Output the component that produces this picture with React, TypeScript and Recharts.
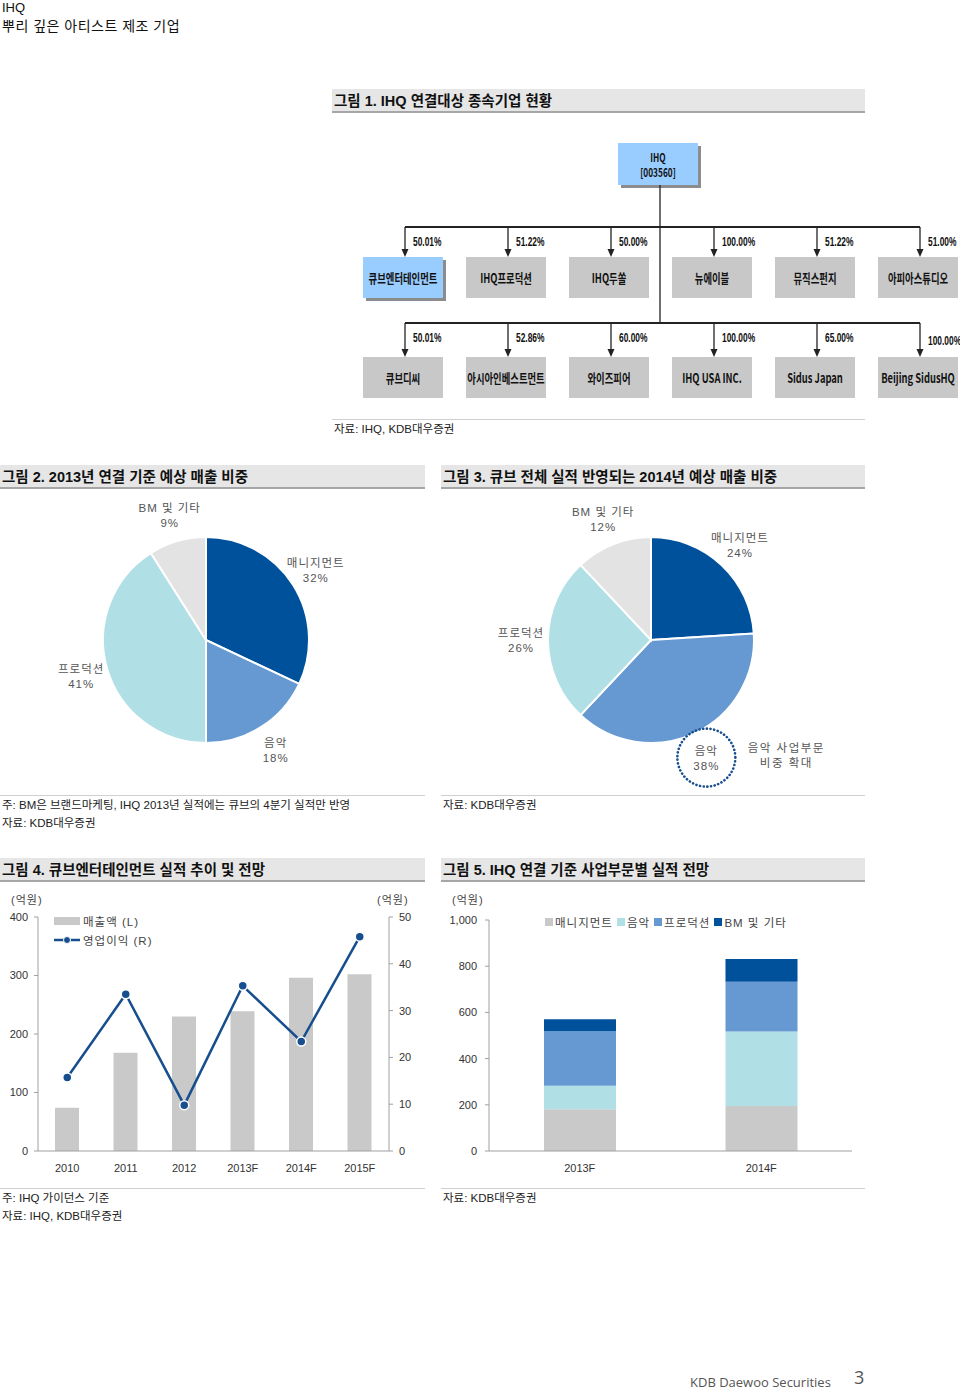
import React from "react";
import {
  Bar,
  BarChart,
  Cell,
  ComposedChart,
  Line,
  Pie,
  PieChart,
  XAxis,
  YAxis,
} from "recharts";

// 그림 1 – 종속기업
const SUBS_1 = ["큐브엔터테인먼트", "IHQ프로덕션", "IHQ두쏠", "뉴에이블", "뮤직스펀지", "아피아스튜디오"];
const STAKES_1 = ["50.01%", "51.22%", "50.00%", "100.00%", "51.22%", "51.00%"];
const SUBS_2 = ["큐브디씨", "아시아인베스트먼트", "와이즈피어", "IHQ USA INC.", "Sidus Japan", "Beijing SidusHQ"];
const STAKES_2 = ["50.01%", "52.86%", "60.00%", "100.00%", "65.00%", "100.00%"];

// 그림 2, 3 – 매출 비중 (%)
const SEGMENTS = ["매니지먼트", "음악", "프로덕션", "BM 및 기타"];
const SHARE_2013 = [32, 18, 41, 9];
const SHARE_2014 = [24, 38, 26, 12];
const PIE_COLORS = ["#00519C", "#6699D1", "#B0DFE5", "#E3E3E3"];

// 그림 4 – 큐브엔터테인먼트 (억원)
const YEARS_4 = ["2010", "2011", "2012", "2013F", "2014F", "2015F"];
const SALES_4 = [74, 168, 230, 239, 296, 302];
const OP_4 = [15.7, 33.5, 9.8, 35.3, 23.4, 45.8];

// 그림 5 – 사업부문별 (억원)
const YEARS_5 = ["2013F", "2014F"];
const MGMT_5 = [181, 195];
const MUSIC_5 = [101, 322];
const PROD_5 = [237, 216];
const BM_5 = [51, 98];
const SEG_5 = ["매니지먼트", "음악", "프로덕션", "BM 및 기타"];
const SEG_5_COLORS = ["#C9C9C9", "#B0DFE5", "#6699D1", "#00519C"];

const KR = "'Liberation Sans', 'Noto Sans CJK KR', sans-serif";
const RAD = Math.PI / 180;
const DARK = "#174E8E";

const pie2013 = SEGMENTS.map((name, i) => ({ name, value: SHARE_2013[i] }));
const pie2014 = SEGMENTS.map((name, i) => ({ name, value: SHARE_2014[i] }));
const fig4 = YEARS_4.map((year, i) => ({ year, sales: SALES_4[i], op: OP_4[i] }));
const fig5 = YEARS_5.map((year, i) => ({
  year,
  mgmt: MGMT_5[i],
  music: MUSIC_5[i],
  prod: PROD_5[i],
  bm: BM_5[i],
}));

function TitleBar({ x, y, w, text }: { x: number; y: number; w: number; text: string }) {
  return (
    <div
      style={{
        position: "absolute",
        left: x,
        top: y,
        width: w,
        height: 24,
        background: "#E6E6E6",
        borderBottom: "2px solid #A6A6A6",
        fontFamily: KR,
        fontWeight: 700,
        fontSize: 14.5,
        lineHeight: "24px",
        paddingLeft: 2,
        boxSizing: "border-box",
        color: "#111",
        whiteSpace: "nowrap",
      }}
    >
      {text}
    </div>
  );
}

function Note({ x, y, lines, w }: { x: number; y: number; lines: string[]; w: number }) {
  return (
    <div style={{ position: "absolute", left: x, top: y, width: w, borderTop: "1px solid #CFCFCF" }}>
      {lines.map((l) => (
        <div key={l} style={{ fontFamily: KR, fontSize: 11.5, color: "#222", lineHeight: "18px", paddingLeft: 2, whiteSpace: "nowrap" }}>
          {l}
        </div>
      ))}
    </div>
  );
}

function Txt({ x, y, children, size = 11 }: any) {
  return (
    <div
      style={{
        position: "absolute",
        left: x,
        top: y,
        fontFamily: KR,
        fontSize: size,
        color: "#444",
        letterSpacing: 1,
        whiteSpace: "nowrap",
      }}
    >
      {children}
    </div>
  );
}

function OrgBox({ cx, y, w, h, label, blue }: { cx: number; y: number; w: number; h: number; label: string; blue?: boolean }) {
  const lines = label.split("\n");
  return (
    <g>
      {blue && <rect x={cx - w / 2 + 3} y={y + 3} width={w} height={h} fill="#8C8C8C" />}
      <rect x={cx - w / 2} y={y} width={w} height={h} fill={blue ? "#99CCFF" : "#C8C8C8"} />
      {lines.map((l, i) => (
        <text
          key={l}
          transform={`translate(${cx}, ${y + h / 2 + (i - (lines.length - 1) / 2) * 15}) scale(0.72, 1)`}
          textAnchor="middle"
          dominantBaseline="central"
          fontFamily="'Noto Sans CJK KR', sans-serif"
          fontWeight={700}
          fontSize={lines.length > 1 ? 11.5 : 13}
          fill="#111"
        >
          {l}
        </text>
      ))}
    </g>
  );
}

function OrgChart() {
  const xs = SUBS_1.map((_, i) => 405 + i * 103);
  const rows = [
    { line: 227, box: 257, names: SUBS_1, stakes: STAKES_1 },
    { line: 323, box: 357, names: SUBS_2, stakes: STAKES_2 },
  ];
  return (
    <svg width={960} height={420} style={{ position: "absolute", left: 0, top: 0 }}>
      <OrgBox cx={658} y={143} w={80} h={42} label={"IHQ\n[003560]"} blue />
      <line x1={660} y1={185} x2={660} y2={rows[1].line} stroke="#222" strokeWidth={1.3} />
      {rows.map((r, ri) => (
        <g key={ri}>
          <line x1={xs[0]} y1={r.line} x2={xs[5]} y2={r.line} stroke="#222" strokeWidth={2} />
          {xs.map((x, i) => (
            <g key={i}>
              <line x1={x} y1={r.line} x2={x} y2={r.box - 6} stroke="#222" strokeWidth={1.3} />
              <polygon points={`${x - 3.5},${r.box - 8} ${x + 3.5},${r.box - 8} ${x},${r.box}`} fill="#222" />
              <text
                transform={`translate(${x + 8}, ${r.line + 15 + (ri === 1 && i === 5 ? 3 : 0)}) scale(0.7, 1)`}
                fontFamily="'Liberation Sans', sans-serif"
                fontWeight={700}
                fontSize={12}
                fill="#111"
                dominantBaseline="central"
              >
                {r.stakes[i]}
              </text>
              <OrgBox cx={x - 2} y={r.box} w={80} h={41} label={r.names[i]} blue={ri === 0 && i === 0} />
            </g>
          ))}
        </g>
      ))}
    </svg>
  );
}

function makePieLabel(highlight?: string) {
  return (props: any) => {
    const { cx, cy, midAngle, outerRadius, name, value } = props;
    const r = outerRadius + 27;
    const x = cx + r * Math.cos(-midAngle * RAD);
    const y = cy + r * Math.sin(-midAngle * RAD);
    const hl = highlight === name;
    return (
      <g>
        {hl && (
          <circle cx={x} cy={y} r={29} fill="none" stroke={DARK} strokeWidth={2.6} strokeDasharray="0.1 3.6" strokeLinecap="round" />
        )}
        <text x={x} y={y} textAnchor="middle" fontFamily={KR} fontSize={11.5} fill="#555" letterSpacing={1}>
          <tspan x={x} dy={-3}>{name}</tspan>
          <tspan x={x} dy={15}>{value}%</tspan>
        </text>
        {hl && (
          <text x={x + 80} y={y} textAnchor="middle" fontFamily={KR} fontSize={11.5} fill="#555" letterSpacing={1.5}>
            <tspan x={x + 80} dy={-6}>음악 사업부문</tspan>
            <tspan x={x + 80} dy={15}>비중 확대</tspan>
          </text>
        )}
      </g>
    );
  };
}

function SharePie({ data, cx, highlight }: { data: { name: string; value: number }[]; cx: number; highlight?: string }) {
  return (
    <PieChart width={425} height={300} margin={{ top: 0, right: 0, bottom: 0, left: 0 }}>
      <Pie
        data={data}
        dataKey="value"
        nameKey="name"
        cx={cx}
        cy={150}
        outerRadius={103}
        startAngle={90}
        endAngle={-270}
        stroke="#fff"
        strokeWidth={2}
        labelLine={false}
        label={makePieLabel(highlight)}
        isAnimationActive={false}
      >
        {data.map((d, i) => (
          <Cell key={d.name} fill={PIE_COLORS[i]} />
        ))}
      </Pie>
    </PieChart>
  );
}

const tickStyle = { fontSize: 11, fill: "#333", fontFamily: "'Liberation Sans', sans-serif" };

export default function App() {
  return (
    <div style={{ position: "absolute", left: 0, top: 0, width: 960, height: 1390, background: "#fff", overflow: "hidden" }}>
      <div style={{ position: "absolute", left: 2, top: 0, fontFamily: KR, fontSize: 13, color: "#111" }}>IHQ</div>
      <div style={{ position: "absolute", left: 2, top: 15, fontFamily: KR, fontSize: 14, color: "#111", letterSpacing: 0.5 }}>
        뿌리 깊은 아티스트 제조 기업
      </div>

      <TitleBar x={332} y={89} w={533} text="그림 1. IHQ 연결대상 종속기업 현황" />
      <OrgChart />
      <Note x={332} y={419} w={533} lines={["자료: IHQ, KDB대우증권"]} />

      <TitleBar x={0} y={465} w={425} text="그림 2. 2013년 연결 기준 예상 매출 비중" />
      <TitleBar x={441} y={465} w={424} text="그림 3. 큐브 전체 실적 반영되는 2014년 예상 매출 비중" />
      <div style={{ position: "absolute", left: 0, top: 490 }}>
        <SharePie data={pie2013} cx={206} />
      </div>
      <div style={{ position: "absolute", left: 441, top: 490 }}>
        <SharePie data={pie2014} cx={210} highlight="음악" />
      </div>
      <Note x={0} y={795} w={425} lines={["주: BM은 브랜드마케팅, IHQ 2013년 실적에는 큐브의 4분기 실적만 반영", "자료: KDB대우증권"]} />
      <Note x={441} y={795} w={424} lines={["자료: KDB대우증권"]} />

      <TitleBar x={0} y={858} w={425} text="그림 4. 큐브엔터테인먼트 실적 추이 및 전망" />
      <TitleBar x={441} y={858} w={424} text="그림 5. IHQ 연결 기준 사업부문별 실적 전망" />

      {/* 그림 4 */}
      <Txt x={11} y={891}>(억원)</Txt>
      <Txt x={377} y={891}>(억원)</Txt>
      <div style={{ position: "absolute", left: 0, top: 880 }}>
        <ComposedChart width={440} height={310} data={fig4} margin={{ top: 37, right: 0, bottom: 0, left: 0 }}>
          <XAxis dataKey="year" height={39} tick={tickStyle} tickLine={false} axisLine={{ stroke: "#A0A0A0" }} tickMargin={7} />
          <YAxis
            yAxisId="l"
            width={38}
            domain={[0, 400]}
            ticks={[0, 100, 200, 300, 400]}
            tick={tickStyle}
            tickSize={4}
            tickMargin={6}
            axisLine={{ stroke: "#A0A0A0" }}
            tickLine={{ stroke: "#A0A0A0" }}
          />
          <YAxis
            yAxisId="r"
            orientation="right"
            width={51}
            domain={[0, 50]}
            ticks={[0, 10, 20, 30, 40, 50]}
            tick={tickStyle}
            tickSize={4}
            tickMargin={6}
            axisLine={{ stroke: "#A0A0A0" }}
            tickLine={{ stroke: "#A0A0A0" }}
          />
          <Bar yAxisId="l" dataKey="sales" fill="#C9C9C9" barSize={24} isAnimationActive={false} />
          <Line
            yAxisId="r"
            dataKey="op"
            type="linear"
            stroke={DARK}
            strokeWidth={2.5}
            dot={{ r: 4.5, fill: DARK, stroke: "#fff", strokeWidth: 1.5 }}
            isAnimationActive={false}
          />
        </ComposedChart>
      </div>
      <div style={{ position: "absolute", left: 54, top: 917, width: 26, height: 8, background: "#C9C9C9" }} />
      <Txt x={83} y={913} size={11.5}>매출액 (L)</Txt>
      <svg width={30} height={12} style={{ position: "absolute", left: 52, top: 934 }}>
        <line x1={2} y1={6} x2={28} y2={6} stroke={DARK} strokeWidth={2.5} />
        <circle cx={15} cy={6} r={3.5} fill={DARK} stroke="#fff" strokeWidth={1} />
      </svg>
      <Txt x={83} y={932} size={11.5}>영업이익 (R)</Txt>

      {/* 그림 5 */}
      <Txt x={452} y={891}>(억원)</Txt>
      <div style={{ position: "absolute", left: 441, top: 880 }}>
        <BarChart width={440} height={310} data={fig5} margin={{ top: 40, right: 29, bottom: 0, left: 0 }}>
          <XAxis dataKey="year" height={39} tick={tickStyle} tickLine={false} axisLine={{ stroke: "#A0A0A0" }} tickMargin={7} />
          <YAxis
            width={48}
            domain={[0, 1000]}
            ticks={[0, 200, 400, 600, 800, 1000]}
            tickFormatter={(v: number) => v.toLocaleString("en-US")}
            tick={tickStyle}
            tickSize={4}
            tickMargin={8}
            axisLine={{ stroke: "#A0A0A0" }}
            tickLine={{ stroke: "#A0A0A0" }}
          />
          <Bar dataKey="mgmt" stackId="a" fill={SEG_5_COLORS[0]} barSize={72} isAnimationActive={false} />
          <Bar dataKey="music" stackId="a" fill={SEG_5_COLORS[1]} barSize={72} isAnimationActive={false} />
          <Bar dataKey="prod" stackId="a" fill={SEG_5_COLORS[2]} barSize={72} isAnimationActive={false} />
          <Bar dataKey="bm" stackId="a" fill={SEG_5_COLORS[3]} barSize={72} isAnimationActive={false} />
        </BarChart>
      </div>
      <div style={{ position: "absolute", left: 545, top: 914, display: "flex", gap: 4, fontFamily: KR, fontSize: 11.5, color: "#444", letterSpacing: 1 }}>
        {SEG_5.map((s, i) => (
          <div key={s} style={{ display: "flex", alignItems: "center", gap: 2 }}>
            <span style={{ width: 8, height: 8, background: SEG_5_COLORS[i], display: "inline-block" }} />
            <span>{s}</span>
          </div>
        ))}
      </div>

      <Note x={0} y={1188} w={425} lines={["주: IHQ 가이던스 기준", "자료: IHQ, KDB대우증권"]} />
      <Note x={441} y={1188} w={424} lines={["자료: KDB대우증권"]} />

      <div style={{ position: "absolute", left: 690, top: 1375, fontFamily: "'Open Sans', sans-serif", fontSize: 13, lineHeight: "14px", color: "#555" }}>
        KDB Daewoo Securities
      </div>
      <div style={{ position: "absolute", left: 854, top: 1366, fontFamily: "'Open Sans', sans-serif", fontSize: 18, lineHeight: "22px", color: "#555" }}>3</div>
    </div>
  );
}
